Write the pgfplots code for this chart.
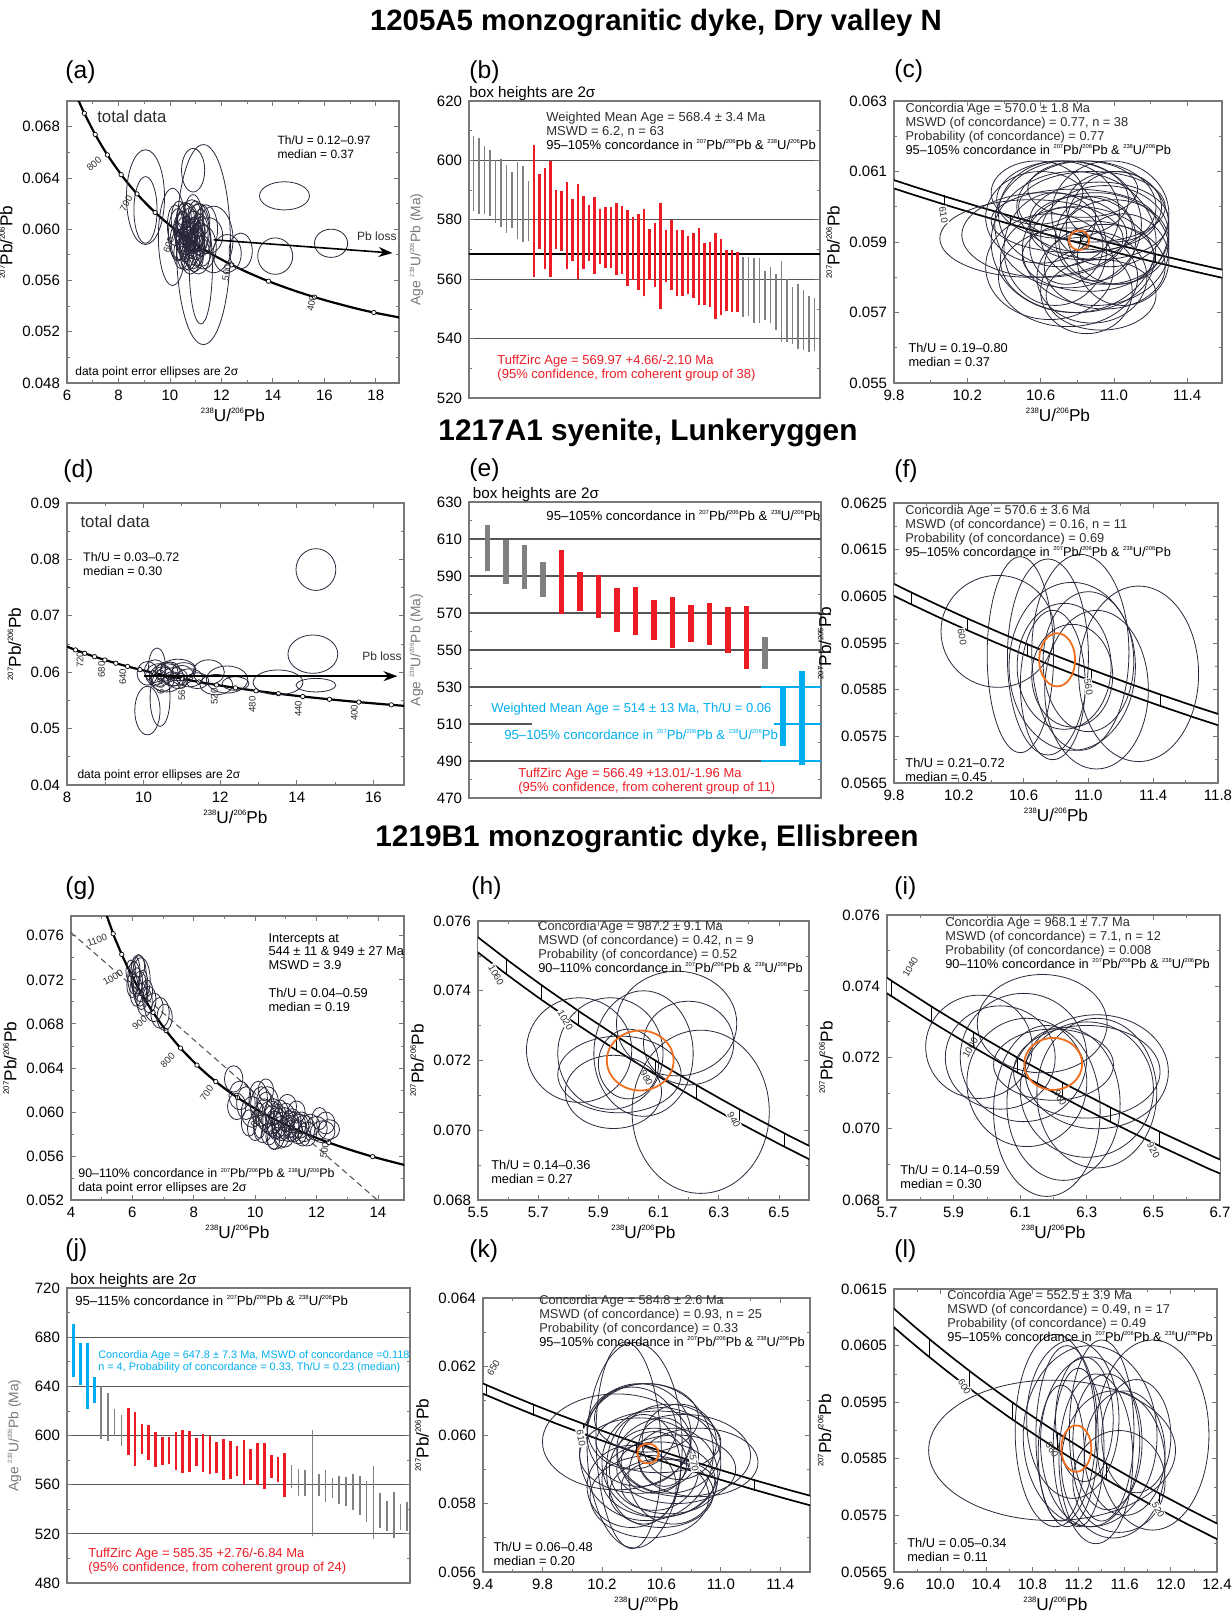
\documentclass[border=0pt]{standalone}
\usepackage{pgfplots}
\pgfplotsset{compat=1.18}
\usepackage{pgfplotstable}
\usepackage{fontspec}
\setmainfont{Liberation Sans}
\usetikzlibrary{arrows.meta}

\definecolor{ellc}{RGB}{40,40,58}
\definecolor{orng}{RGB}{240,110,30}
\definecolor{bred}{RGB}{237,28,36}
\definecolor{bgray}{RGB}{128,128,128}
\definecolor{bcyan}{RGB}{0,174,239}
\definecolor{axg}{RGB}{120,120,120}
\definecolor{gridc}{RGB}{85,85,85}
\definecolor{txt}{RGB}{45,45,45}

\newcommand{\su}[1]{\raisebox{0.85ex}{\scalebox{0.45}{#1}}}
\newcommand{\fsz}[2]{\fontsize{#1}{#2}\selectfont}

% ellipse mark: parameters ax/ay/by come from the symbolic point meta
\def\parseell#1/#2/#3\relax{\def\ellax{#1}\def\ellay{#2}\def\ellby{#3}}
\pgfdeclareplotmark{uell}{%
  \pgfpathellipse{\pgfpointorigin}%
    {\pgfplotspointaxisdirectionxy{\ellax}{\ellay}}%
    {\pgfplotspointaxisdirectionxy{0}{\ellby}}%
  \pgfusepathqstroke}

% concordia (Tera-Wasserburg): age, 238U/206Pb, 207Pb/206Pb
\pgfplotstableread{
t x y
300 20.992 0.052334
350 17.923 0.053499
380 16.469 0.054215
400 15.621 0.054701
420 14.854 0.055192
440 14.157 0.055690
450 13.831 0.055940
460 13.520 0.056193
480 12.936 0.056703
500 12.399 0.057220
510 12.1466 0.057480
520 11.9037 0.057743
530 11.6698 0.058006
540 11.4448 0.058272
550 11.228 0.058539
560 11.0187 0.058808
570 10.8169 0.059079
580 10.622 0.059351
590 10.4337 0.059625
600 10.2518 0.059901
610 10.0758 0.060179
620 9.9054 0.060458
630 9.7405 0.060739
640 9.5808 0.061022
650 9.4259 0.061306
660 9.2758 0.061593
680 8.9888 0.062172
700 8.7182 0.062756
720 8.4627 0.063350
740 8.2209 0.063951
750 8.1049 0.064254
800 7.5684 0.065799
850 7.0950 0.067395
900 6.6743 0.069042
920 6.5189 0.069716
940 6.3701 0.070399
950 6.2980 0.070743
960 6.2274 0.071090
980 6.0906 0.071791
1000 5.9593 0.072500
1020 5.8332 0.073218
1040 5.7119 0.073946
1050 5.6530 0.074314
1060 5.5952 0.074684
1080 5.4828 0.075431
1100 5.3746 0.076188
1200 4.8875 0.080122
1300 4.4756 0.084322
}\conc
% age markers every 50 Ma
\pgfplotstableread{
t x y
350 17.923 0.053499
400 15.621 0.054701
450 13.831 0.055940
500 12.399 0.057220
550 11.228 0.058539
600 10.2518 0.059901
650 9.4259 0.061306
700 8.7182 0.062756
750 8.1049 0.064254
800 7.5684 0.065799
850 7.0950 0.067395
900 6.6743 0.069042
950 6.2980 0.070743
1000 5.9593 0.072500
1050 5.6530 0.074314
1100 5.3746 0.076188
}\mFifty
% age markers every 20 Ma
\pgfplotstableread{
t x y
380 16.469 0.054215
400 15.621 0.054701
420 14.854 0.055192
440 14.157 0.055690
460 13.520 0.056193
480 12.936 0.056703
500 12.399 0.057220
520 11.9037 0.057743
540 11.4448 0.058272
560 11.0187 0.058808
580 10.622 0.059351
600 10.2518 0.059901
620 9.9054 0.060458
640 9.5808 0.061022
660 9.2758 0.061593
680 8.9888 0.062172
700 8.7182 0.062756
720 8.4627 0.063350
740 8.2209 0.063951
920 6.5189 0.069716
940 6.3701 0.070399
960 6.2274 0.071090
980 6.0906 0.071791
1000 5.9593 0.072500
1020 5.8332 0.073218
1040 5.7119 0.073946
1060 5.5952 0.074684
1080 5.4828 0.075431
}\mTwenty
% age markers 510, 530, ... 650 Ma
\pgfplotstableread{
t x y
510 12.1466 0.057480
530 11.6698 0.058006
550 11.228 0.058539
570 10.8169 0.059079
590 10.4337 0.059625
610 10.0758 0.060179
630 9.7405 0.060739
650 9.4259 0.061306
}\mOdd

% ---------- ellipses: centre x y, p = ax/ay/by (conjugate semi-axes (ax,ay) and (0,by))
\pgfplotstableread{
x y p
11.30 0.0588 1.05/0/0.0078
9.05 0.0625 0.74/0/0.0037
9.05 0.0615 0.45/0/0.0026
10.90 0.0646 0.45/0/0.0017
11.20 0.0571 0.45/0/0.0045
10.10 0.0594 0.55/0/0.0038
14.45 0.0626 0.97/0/0.0011
16.26 0.0589 0.645/0/0.0011
14.09 0.0579 0.68/0/0.00142
12.22 0.0581 0.55/0/0.00148
11.70 0.0592 0.75/0/0.0026
12.75 0.0583 0.45/0/0.0014
10.60 0.0595 0.40/0/0.0015
10.80 0.0590 0.45/0/0.0018
11.00 0.0598 0.35/0/0.0012
10.50 0.0600 0.30/0/0.0014
10.90 0.0585 0.40/0/0.0016
11.20 0.0592 0.38/0/0.0013
10.70 0.0603 0.42/0/0.0017
10.40 0.0588 0.35/0/0.0012
11.10 0.0580 0.45/0/0.0015
10.80 0.0597 0.28/0/0.0010
10.30 0.0596 0.36/0/0.0020
11.40 0.0600 0.45/0/0.0019
10.60 0.0582 0.33/0/0.0014
10.90 0.0605 0.38/0/0.0022
11.30 0.0586 0.50/0/0.0017
10.50 0.0592 0.25/0/0.0009
10.80 0.0578 0.38/0/0.0013
11.00 0.0610 0.30/0/0.0012
10.20 0.0603 0.30/0/0.0016
11.50 0.0595 0.55/0/0.0014
10.70 0.0588 0.30/0/0.0011
11.10 0.0600 0.44/0/0.0020
10.95 0.0592 0.20/0/0.0008
10.60 0.0608 0.35/0/0.0013
10.75 0.0594 0.30/0/0.0012
10.85 0.0587 0.25/0/0.0010
11.05 0.0590 0.30/0/0.0014
10.65 0.0599 0.22/0/0.0011
10.95 0.0600 0.28/0/0.0009
10.45 0.0581 0.30/0/0.0012
11.25 0.0583 0.35/0/0.0012
10.55 0.0610 0.28/0/0.0010
10.85 0.0612 0.35/0/0.0011
11.15 0.0607 0.40/0/0.0013
10.35 0.0608 0.30/0/0.0014
10.50 0.0598 0.32/0/0.0016
10.62 0.0590 0.38/0/0.0012
10.72 0.0585 0.35/0/0.0017
10.88 0.0595 0.40/0/0.0014
11.02 0.0587 0.33/0/0.0016
10.40 0.0600 0.26/0/0.0012
10.78 0.0602 0.30/0/0.0015
10.95 0.0579 0.35/0/0.0012
11.18 0.0597 0.30/0/0.0015
10.58 0.0587 0.22/0/0.0013
10.68 0.0593 0.18/0/0.0010
10.84 0.0591 0.15/0/0.0009
11.08 0.0594 0.22/0/0.0011
10.30 0.0590 0.30/0/0.0015
10.92 0.0598 0.45/0/0.0016
}\ellA

\pgfplotstableread{
x y p
10.62 0.0592 0.45/0/0.0012
10.55 0.0591 0.50/0/0.0011
10.75 0.0595 0.40/0/0.0018
10.85 0.0600 0.38/0/0.0013
10.90 0.0588 0.40/0/0.0016
10.95 0.0592 0.35/0/0.0014
10.80 0.0585 0.42/0/0.0015
11.00 0.0590 0.30/0/0.0012
10.70 0.0598 0.33/0/0.0015
10.88 0.0580 0.30/0/0.0013
10.78 0.0590 0.45/0/0.0020
10.92 0.0596 0.38/0/0.0011
10.85 0.0576 0.25/0/0.0012
10.65 0.0583 0.35/0/0.0015
11.05 0.0585 0.25/0/0.0013
10.98 0.0598 0.32/0/0.0015
10.72 0.0602 0.36/0/0.0011
10.82 0.0594 0.28/0/0.0009
10.90 0.0591 0.22/0/0.0012
10.60 0.0597 0.30/0/0.0013
11.02 0.0594 0.28/0/0.0016
10.75 0.0580 0.38/0/0.0014
10.88 0.0600 0.40/0/0.0010
10.95 0.0583 0.33/0/0.0012
10.68 0.0588 0.28/0/0.0016
10.83 0.0605 0.30/0/0.0008
10.93 0.0575 0.30/0/0.0010
10.78 0.0596 0.45/0/0.0009
11.00 0.0600 0.26/0/0.0010
10.58 0.0604 0.25/0/0.0009
10.86 0.0586 0.36/0/0.0010
10.74 0.0589 0.20/0/0.0011
}\ellC

\pgfplotstableread{
x y p
14.50 0.0782 0.52/0/0.0037
14.42 0.0632 0.65/0/0.0034
13.51 0.0582 0.65/0/0.0022
14.50 0.0577 0.52/0/0.0012
12.18 0.0587 0.54/0/0.0024
11.70 0.0600 0.41/0/0.0022
11.90 0.0578 0.43/0/0.0018
10.10 0.0532 0.33/0/0.0043
10.43 0.0554 0.26/0/0.0050
10.35 0.0610 0.22/0/0.0033
10.10 0.0598 0.27/0/0.0021
10.90 0.0604 0.47/0/0.0019
10.40 0.0595 0.35/0/0.0020
10.60 0.0600 0.30/0/0.0018
10.80 0.0592 0.35/0/0.0016
10.50 0.0588 0.30/0/0.0022
10.70 0.0603 0.25/0/0.0015
11.00 0.0595 0.30/0/0.0017
11.20 0.0590 0.35/0/0.0016
10.30 0.0602 0.28/0/0.0020
10.90 0.0585 0.25/0/0.0014
10.60 0.0590 0.45/0/0.0025
11.40 0.0585 0.30/0/0.0014
10.55 0.0596 0.20/0/0.0012
10.75 0.0588 0.22/0/0.0013
12.40 0.0580 0.35/0/0.0012
11.05 0.0605 0.30/0/0.0012
}\ellD

\pgfplotstableread{
x y p
10.44 0.05975 0.35/0/0.0012
10.58 0.05925 0.205/0/0.0021
10.75 0.0592 0.25/0/0.0021
10.95 0.0593 0.30/0/0.0021
11.31 0.05884 0.37/0/0.00188
10.90 0.0590 0.39/0/0.0018
10.85 0.0590 0.29/0/0.00135
10.90 0.0588 0.25/0/0.0011
11.00 0.0591 0.28/0/0.0015
10.78 0.0586 0.20/0/0.0016
11.05 0.0585 0.32/0/0.0017
}\ellF

\pgfplotstableread{
x y p
6.05 0.0722 0.20/0/0.0015
6.15 0.0718 0.18/0/0.0013
6.25 0.0712 0.22/0/0.0016
6.10 0.0727 0.15/0/0.0014
6.30 0.0705 0.20/0/0.0012
6.00 0.0715 0.18/0/0.0011
6.20 0.0725 0.25/0/0.0018
6.40 0.0700 0.25/0/0.0013
6.35 0.0717 0.15/0/0.0012
6.12 0.0710 0.20/0/0.0014
6.55 0.0702 0.22/0/0.0012
6.70 0.0695 0.30/0/0.0013
6.90 0.0690 0.30/0/0.0014
7.05 0.0686 0.25/0/0.0012
6.22 0.0732 0.18/0/0.0010
6.48 0.0710 0.18/0/0.0010
5.95 0.0728 0.16/0/0.0010
6.28 0.0720 0.30/0/0.0020
9.30 0.0630 0.30/0/0.0012
9.50 0.0615 0.35/0/0.0013
9.70 0.0608 0.30/0/0.0015
9.40 0.0605 0.30/0/0.0012
9.90 0.0600 0.35/0/0.0014
10.10 0.0612 0.30/0/0.0016
10.20 0.0605 0.35/0/0.0018
10.30 0.0598 0.30/0/0.0014
10.40 0.0610 0.35/0/0.0013
10.50 0.0595 0.40/0/0.0015
10.60 0.0600 0.30/0/0.0012
10.70 0.0590 0.35/0/0.0014
10.80 0.0598 0.30/0/0.0013
10.90 0.0588 0.35/0/0.0012
11.00 0.0595 0.30/0/0.0013
11.10 0.0585 0.35/0/0.0012
11.20 0.0592 0.30/0/0.0011
11.30 0.0588 0.35/0/0.0012
11.40 0.0582 0.30/0/0.0011
11.50 0.0590 0.30/0/0.0010
11.60 0.0585 0.35/0/0.0012
11.70 0.0580 0.30/0/0.0011
11.80 0.0588 0.30/0/0.0010
12.00 0.0585 0.35/0/0.0011
12.20 0.0582 0.40/0/0.0010
12.40 0.0584 0.35/0/0.0009
10.25 0.0585 0.30/0/0.0013
10.45 0.0580 0.25/0/0.0010
10.65 0.0578 0.30/0/0.0012
10.85 0.0580 0.25/0/0.0013
10.60 0.0575 0.20/0/0.0009
9.80 0.0590 0.25/0/0.0012
10.00 0.0585 0.25/0/0.0011
10.35 0.0620 0.25/0/0.0010
11.05 0.0605 0.30/0/0.0011
11.35 0.0600 0.28/0/0.0010
10.15 0.0592 0.20/0/0.0016
10.95 0.0577 0.30/0/0.0009
11.55 0.0578 0.25/0/0.0009
12.10 0.0594 0.25/0/0.0010
10.55 0.0592 0.30/0/0.0014
10.75 0.0595 0.28/0/0.0012
10.95 0.0591 0.32/0/0.0013
11.15 0.0589 0.28/0/0.0012
10.35 0.0603 0.30/0/0.0015
11.45 0.0587 0.30/0/0.0011
10.85 0.0585 0.30/0/0.0011
11.25 0.0583 0.30/0/0.0010
10.65 0.0588 0.25/0/0.0013
12.30 0.0590 0.30/0/0.0010
}\ellG

\pgfplotstableread{
x y p
5.836 0.0723 0.175/0/0.0015
5.94 0.0722 0.175/0/0.0016
6.05 0.0722 0.165/0/0.0018
6.16 0.07306 0.20/0/0.0015
6.20 0.0725 0.15/0/0.0012
5.95 0.0711 0.16/0/0.00105
6.24 0.07053 0.228/0/0.00234
5.97 0.0716 0.205/0/0.0011
6.00 0.0719 0.10/0/0.0010
}\ellH

\pgfplotstableread{
x y p
5.976 0.0723 0.16/0/0.00145
6.04 0.0720 0.165/0/0.00145
6.166 0.07295 0.195/0/0.00138
6.11 0.0720 0.19/0/0.0018
6.18 0.0705 0.16/0/0.0024
6.23 0.0707 0.17/0/0.00215
6.30 0.0711 0.20/0/0.0019
6.33 0.0716 0.215/0/0.0016
6.30 0.0716 0.22/0/0.0013
6.20 0.0718 0.18/0/0.0010
6.33 0.0710 0.18/0/0.0021
6.12 0.0713 0.18/0/0.0018
}\ellI

\pgfplotstableread{
x y p
10.50 0.0595 0.45/0/0.0020
10.30 0.0598 0.50/0/0.0014
10.60 0.0592 0.40/0/0.0016
10.55 0.0590 0.30/0/0.0012
10.45 0.0600 0.35/0/0.0015
10.65 0.0596 0.35/0/0.0013
10.58 0.0587 0.38/0/0.0011
10.70 0.0590 0.40/0/0.0010
10.40 0.0585 0.30/0/0.0012
10.38 0.0597 0.22/-0.0003/0.0030
10.42 0.0597 0.32/0/0.0030
10.75 0.0594 0.45/0/0.0012
10.85 0.0592 0.40/0/0.0010
10.60 0.0583 0.35/0/0.0010
10.50 0.0605 0.35/0/0.0010
10.55 0.0592 0.22/0/0.0009
10.68 0.0588 0.30/0/0.0014
10.48 0.0590 0.25/0/0.0016
10.58 0.0598 0.42/0/0.0009
10.45 0.0594 0.40/0/0.0011
10.65 0.0585 0.32/0/0.0008
10.40 0.0602 0.30/0/0.0012
10.52 0.0582 0.40/0/0.0012
10.72 0.0598 0.25/0/0.0011
10.62 0.0595 0.18/0/0.0010
}\ellK

\pgfplotstableread{
x y p
10.97 0.05865 1.07/0/0.00124
11.84 0.05892 0.49/0/0.00168
11.30 0.0589 0.58/0/0.0016
11.30 0.0588 0.43/0/0.0015
11.10 0.0589 0.27/0/0.0016
11.20 0.0587 0.22/0/0.0014
11.45 0.0588 0.30/0/0.0012
11.60 0.0586 0.35/0/0.0011
11.00 0.0590 0.35/0/0.0017
11.25 0.0592 0.25/0/0.0011
11.50 0.0584 0.45/0/0.0013
11.35 0.0585 0.32/0/0.0015
11.05 0.0586 0.20/0/0.0012
11.70 0.0589 0.30/0/0.0010
11.15 0.0592 0.40/0/0.0014
11.40 0.0590 0.28/0/0.0016
11.55 0.0581 0.40/0/0.0009
}\ellL

% concordia-age ellipses (orange)
\pgfplotstableread{
x y p
10.81 0.05905 0.055/0/0.00028
}\orC
\pgfplotstableread{
x y p
10.807 0.05914 0.111/0/0.00057
}\orF
\pgfplotstableread{
x y p
6.039 0.0720 0.111/0/0.00086
}\orH
\pgfplotstableread{
x y p
6.199 0.07182 0.087/0/0.00073
}\orI
\pgfplotstableread{
x y p
10.51 0.05946 0.072/0/0.00029
}\orK
\pgfplotstableread{
x y p
11.18 0.05868 0.13/0/0.00041
}\orL

% ---------- age bars (b)
\pgfplotstableread{
i lo hi
1 583.0 608.2
2 582.1 607.4
3 581.9 604.8
4 581.3 603.5
5 579.0 600.1
6 577.6 600.4
7 575.6 598.4
8 577.1 596.2
9 573.5 599.6
10 572.6 598.1
11 572.9 593.0
50 547.3 567.5
51 547.5 567.5
52 545.4 567.0
53 545.1 567.2
54 546.2 562.8
55 545.1 564.2
56 542.8 561.9
57 538.9 566.1
58 538.9 560.0
59 538.3 557.4
60 536.6 558.3
61 536.1 556.3
62 535.5 554.3
63 535.8 553.7
}\bG
\pgfplotstableread{
i lo hi
12 560.6 605.1
13 570.2 595.4
14 563.4 597.3
15 560.8 599.9
16 570.3 590.0
17 569.4 589.7
18 563.4 592.6
19 566.1 587.0
20 560.0 592.0
21 563.6 588.0
22 566.2 584.9
23 561.9 587.8
24 565.1 583.8
25 563.8 584.2
26 563.7 584.2
27 561.3 585.8
28 561.7 584.7
29 557.8 583.3
30 559.7 581.0
31 556.3 581.9
32 554.3 583.5
33 559.7 576.9
34 557.4 579.0
35 550.1 585.8
36 558.9 576.5
37 556.3 579.9
38 554.3 576.5
39 554.3 576.6
40 554.9 574.5
41 553.8 575.6
42 551.2 577.1
43 551.2 572.1
44 550.7 572.5
45 546.7 575.7
46 547.8 573.5
47 549.3 569.8
48 549.0 570.0
49 549.0 569.1
}\bR
% (e)
\pgfplotstableread{
i lo hi
1 592.5 617.7
2 585.7 609.6
3 583.0 606.9
4 578.5 597.4
16 539.7 557.0
}\eG
\pgfplotstableread{
i lo hi
5 569.5 604.2
6 571.1 592.3
7 567.1 590.7
8 559.6 583.5
9 557.9 583.9
10 555.2 577.2
11 550.9 578.5
12 554.5 574.2
13 552.7 575.4
14 548.4 573.2
15 539.7 573.6
}\eR
\pgfplotstableread{
i lo hi
17 497.9 530.4
18 487.7 538.5
}\eB
% (j)
\pgfplotstableread{
i lo hi
1 647.8 691.1
2 641.1 674.9
3 621.4 674.9
4 626.8 647.8
}\jB
\pgfplotstableread{
i lo hi
5 597.0 640.3
6 595.9 634.3
7 599.7 621.4
8 591.6 616.8
33 557.3 576.2
34 551.1 572.7
35 551.1 571.6
37 550.5 568.6
38 545.7 572.2
39 549.2 565.4
40 544.6 566.7
41 542.4 566.2
42 539.2 568.6
43 535.7 566.7
44 529.7 563.2
46 524.9 553.2
47 522.7 547.0
48 516.8 553.8
49 523.5 544.6
50 522.2 545.7
}\jG
\pgfplotstableread{
i lo hi
36 518.1 604.1
45 516.0 574.9
}\jGt
\pgfplotstableread{
i lo hi
9 584.3 622.7
10 574.9 619.5
11 585.1 609.2
12 580.3 608.6
13 574.3 603.2
14 576.2 599.2
15 576.8 599.2
16 571.6 603.2
17 569.5 604.6
18 570.0 603.8
19 574.9 597.8
20 570.3 601.4
21 568.7 600.0
22 569.5 595.1
23 564.1 597.0
24 564.6 595.9
25 567.3 591.6
26 560.0 596.5
27 564.1 588.9
28 560.0 594.3
29 556.5 594.3
30 565.4 584.1
31 561.9 582.2
32 549.7 585.7
}\jR

\tikzset{
  ann/.style={anchor=north west, inner sep=0pt, align=left, font=\fsz{6.4}{6.9}, text=txt},
  clab/.style={inner sep=0.5pt, font=\fsz{4.8}{5}, text=txt},
}
\pgfplotsset{
  ell/.style={scatter, only marks, mark=uell, color=ellc, point meta=explicit symbolic,
    scatter/@pre marker code/.code={\expandafter\parseell\pgfplotspointmeta\relax},
    scatter/@post marker code/.code={},
    mark options={line width=0.4pt, solid}},
  orell/.style={ell, color=orng, mark options={line width=0.9pt, solid}},
  bars/.style 2 args={draw=none, no markers, error bars/.cd, y dir=plus, y explicit, error mark=none, error bar style={line width=#1, draw=#2, solid}},
  base/.style={scale only axis, anchor=south west, clip mode=individual, clip marker paths=true,
    axis line style={axg, line width=0.6pt}, tick style={axg, line width=0.4pt},
    tick align=inside, major tick length=2.5pt, minor tick length=1.4pt,
    tick label style={font=\fsz{7.5}{8}}, label style={font=\fsz{8.6}{10}},
    scaled ticks=false, /pgf/number format/assume math mode=true,
    /pgf/number format/fixed, /pgf/number format/fixed zerofill},
  ov/.style={base, xlabel={\su{238}U/\su{206}Pb}, ylabel={\su{207}Pb/\su{206}Pb},
    minor x tick num=1, minor y tick num=1,
    xlabel style={yshift=3pt}, ylabel style={yshift=-2pt}},
  barax/.style={base, xtick=\empty, ylabel={Age \su{238}U/\su{206}Pb (Ma)},
    ylabel style={font=\fsz{6.9}{7}, text=axg}, minor y tick num=1,
    yticklabel style={/pgf/number format/precision=0}},
  concov/.style={black, line width=1.1pt, smooth},
  concmk/.style={only marks, mark=*, mark size=1.1pt, mark options={fill=white, draw=black, line width=0.35pt}},
  band/.style={black, line width=0.9pt, double=white, double distance=#1, line join=round},
  bandmk/.style={only marks, mark=|, mark size=#1, mark options={black, line width=0.4pt}},
}

\begin{document}
\begin{tikzpicture}
\useasboundingbox (0pt,0pt) rectangle (615.5pt,-805.5pt);
% titles
\node[font=\bfseries\fsz{14.7}{16}] at (328pt,-11.5pt) {1205A5 monzogranitic dyke, Dry valley N};
\node[font=\bfseries\fsz{14.9}{16}] at (324pt,-216.5pt) {1217A1 syenite, Lunkeryggen};
\node[font=\bfseries\fsz{14.9}{16}] at (323.5pt,-419.5pt) {1219B1 monzograntic dyke, Ellisbreen};
% panel letters
\foreach \lx/\ly/\lt in {32.5/-36/a, 234.5/-36/b, 447/-35.5/c, 31.5/-235.5/d, 234.5/-235/e, 447/-235.5/f, 32.5/-444/g, 235.5/-444/h, 447/-444/i, 32.5/-625/j, 234.5/-625.5/k, 447/-625.5/l}
  \node[anchor=west, inner sep=0pt, font=\fsz{12.3}{13}] at (\lx pt,\ly pt) {(\lt)};

% ================= (a)
\begin{axis}[ov, at={(33.5pt,-191.5pt)}, width=166pt, height=141pt,
  xmin=6, xmax=18.9, ymin=0.048, ymax=0.070,
  xtick={6,8,10,12,14,16,18}, ytick={0.048,0.052,0.056,0.060,0.064,0.068},
  xticklabel style={/pgf/number format/precision=0}, yticklabel style={/pgf/number format/precision=3}]
\addplot[concov] table[x=x,y=y]{\conc};
\addplot[concmk] table[x=x,y=y]{\mFifty};
\addplot[ell] table[x=x,y=y,meta=p]{\ellA};
\addplot[black, line width=0.8pt, -{Stealth[length=7pt,width=5pt]}] coordinates {(11.7,0.05917) (18.65,0.05814)};
\node[clab, rotate=40] at (axis cs:7.05,0.0651) {800};
\node[clab, rotate=60] at (axis cs:8.3,0.0620) {700};
\node[clab, rotate=70] at (axis cs:9.95,0.0588) {600};
\node[clab, rotate=80] at (axis cs:12.2,0.0566) {500};
\node[clab, rotate=80] at (axis cs:15.5,0.0542) {400};
\node[ann, font=\fsz{8.4}{9}] at (rel axis cs:0.09,0.968) {total data};
\node[ann, font=\fsz{6}{7}, text=black] at (rel axis cs:0.633,0.879) {Th/U = 0.12–0.97\\median = 0.37};
\node[ann, anchor=west, font=\fsz{6}{6.5}, text=black] at (rel axis cs:0.024,0.039) {data point error ellipses are 2σ};
\node[ann, anchor=west, font=\fsz{6}{6.5}] at (rel axis cs:0.873,0.521) {Pb loss};
\end{axis}

% ================= (b)
\begin{axis}[barax, at={(234.5pt,-199pt)}, width=175.5pt, height=148.5pt,
  xmin=0.2, xmax=64, ymin=520, ymax=620, ytick={520,540,560,580,600,620},
  ymajorgrids, grid style={gridc, line width=0.5pt}]
\addplot[black, line width=1pt] coordinates {(0.2,568.4) (64,568.4)};
\addplot[bars={0.85pt}{bgray}] table[x=i, y=lo, y error expr=\thisrow{hi}-\thisrow{lo}]{\bG};
\addplot[bars={1.35pt}{bred}] table[x=i, y=lo, y error expr=\thisrow{hi}-\thisrow{lo}]{\bR};
\node[ann, anchor=south west, font=\fsz{7.6}{8}, text=black] at (rel axis cs:0,1) {box heights are 2σ};
\node[ann, font=\fsz{6.5}{7}] at (rel axis cs:0.219,0.963) {Weighted Mean Age = 568.4 ± 3.4 Ma\\MSWD = 6.2, n = 63\\\textcolor{black}{95–105\% concordance in \su{207}Pb/\su{206}Pb \& \su{238}U/\su{206}Pb}};
\node[ann, font=\fsz{6.5}{7}, text=bred] at (rel axis cs:0.08,0.145) {TuffZirc Age = 569.97 +4.66/-2.10 Ma\\(95\% confidence, from coherent group of 38)};
\end{axis}

% ================= (c)
\begin{axis}[ov, at={(447pt,-191.5pt)}, width=164pt, height=141pt,
  xmin=9.8, xmax=11.59, ymin=0.055, ymax=0.063,
  xtick={9.8,10.2,10.6,11.0,11.4}, ytick={0.055,0.057,0.059,0.061,0.063},
  xticklabel style={/pgf/number format/precision=1}, yticklabel style={/pgf/number format/precision=3}]
\addplot[band=3pt] table[x=x,y=y]{\conc};
\addplot[ell] table[x=x,y=y,meta=p]{\ellC};
\addplot[bandmk=2.6pt] table[x=x,y=y]{\mOdd};
\addplot[orell] table[x=x,y=y,meta=p]{\orC};
\node[clab, rotate=-80, fill=white] at (axis cs:10.07,0.05977) {610};
\node[clab, rotate=-80] at (axis cs:10.84,0.05900) {570};
\node[ann] at (rel axis cs:0.034,0.993) {Concordia Age = 570.0 ± 1.8 Ma\\MSWD (of concordance) = 0.77, n = 38\\Probability (of concordance) = 0.77\\\textcolor{black}{95–105\% concordance in \su{207}Pb/\su{206}Pb \& \su{238}U/\su{206}Pb}};
\node[ann, text=black] at (rel axis cs:0.043,0.142) {Th/U = 0.19–0.80\\median = 0.37};
\end{axis}

% ================= (d)
\begin{axis}[ov, at={(33.5pt,-392.5pt)}, width=168.5pt, height=141pt,
  xmin=8, xmax=16.8, ymin=0.04, ymax=0.09,
  xtick={8,10,12,14,16}, ytick={0.04,0.05,0.06,0.07,0.08,0.09},
  xticklabel style={/pgf/number format/precision=0}, yticklabel style={/pgf/number format/precision=2}]
\addplot[concov] table[x=x,y=y]{\conc};
\addplot[concmk] table[x=x,y=y]{\mTwenty};
\addplot[ell] table[x=x,y=y,meta=p]{\ellD};
\addplot[black, line width=0.8pt, -{Stealth[length=7pt,width=5pt]}] coordinates {(10.0,0.0593) (16.63,0.0593)};
\node[clab, rotate=90] at (axis cs:8.34,0.0622) {720};
\node[clab, rotate=90] at (axis cs:8.9,0.0605) {680};
\node[clab, rotate=90] at (axis cs:9.46,0.0592) {640};
\node[clab, rotate=90] at (axis cs:10.45,0.0575) {600};
\node[clab, rotate=90] at (axis cs:11.0,0.0564) {560};
\node[clab, rotate=90] at (axis cs:11.85,0.0557) {520};
\node[clab, rotate=90] at (axis cs:12.84,0.0543) {480};
\node[clab, rotate=90] at (axis cs:14.04,0.0535) {440};
\node[clab, rotate=90] at (axis cs:15.5,0.0528) {400};
\node[ann, font=\fsz{8.4}{9}] at (rel axis cs:0.039,0.957) {total data};
\node[ann, font=\fsz{6.2}{7}, text=black] at (rel axis cs:0.047,0.826) {Th/U = 0.03–0.72\\median = 0.30};
\node[ann, anchor=west, font=\fsz{6}{6.5}, text=black] at (rel axis cs:0.030,0.035) {data point error ellipses are 2σ};
\node[ann, anchor=west, font=\fsz{6}{6.5}] at (rel axis cs:0.875,0.457) {Pb loss};
\end{axis}

% ================= (e)
\begin{axis}[barax, at={(234.5pt,-399pt)}, width=176pt, height=148pt,
  xmin=0, xmax=19.03, ymin=470, ymax=630, ytick={470,490,510,530,550,570,590,610,630}]
\addplot[gridc, line width=0.6pt] coordinates {(0,610) (19.03,610)};
\addplot[gridc, line width=0.6pt] coordinates {(0,590) (19.03,590)};
\addplot[gridc, line width=0.6pt] coordinates {(0,570) (19.03,570)};
\addplot[gridc, line width=0.6pt] coordinates {(0,550) (19.03,550)};
\addplot[gridc, line width=0.6pt] coordinates {(0,530) (15.77,530)};
\addplot[bcyan, line width=0.6pt] coordinates {(15.77,530) (19.03,530)};
\addplot[gridc, line width=0.6pt] coordinates {(0,510) (3.43,510)};
\addplot[bcyan, line width=0.6pt] coordinates {(16.5,510) (19.03,510)};
\addplot[gridc, line width=0.6pt] coordinates {(0,490) (15.77,490)};
\addplot[bcyan, line width=0.6pt] coordinates {(15.77,490) (19.03,490)};
\addplot[bars={2.7pt}{bgray}] table[x=i, y=lo, y error expr=\thisrow{hi}-\thisrow{lo}]{\eG};
\addplot[bars={2.7pt}{bred}] table[x=i, y=lo, y error expr=\thisrow{hi}-\thisrow{lo}]{\eR};
\addplot[bars={3pt}{bcyan}] table[x=i, y=lo, y error expr=\thisrow{hi}-\thisrow{lo}]{\eB};
\node[ann, anchor=south west, font=\fsz{7.6}{8}, text=black] at (rel axis cs:0.01,1) {box heights are 2σ};
\node[ann, font=\fsz{6.6}{7}, text=black] at (rel axis cs:0.219,0.973) {95–105\% concordance in \su{207}Pb/\su{206}Pb \& \su{238}U/\su{206}Pb};
\node[ann, anchor=west, font=\fsz{6.5}{7}, text=bcyan] at (rel axis cs:0.0625,0.301) {Weighted Mean Age = 514 ± 13 Ma, Th/U = 0.06};
\node[ann, anchor=west, font=\fsz{6.6}{7}, text=bcyan] at (rel axis cs:0.099,0.216) {95–105\% concordance in \su{207}Pb/\su{206}Pb \& \su{238}U/\su{206}Pb};
\node[ann, font=\fsz{6.5}{7}, text=bred] at (rel axis cs:0.139,0.101) {TuffZirc Age = 566.49 +13.01/-1.96 Ma\\(95\% confidence, from coherent group of 11)};
\end{axis}

% ================= (f)
\begin{axis}[ov, at={(447pt,-391.5pt)}, width=162pt, height=140pt,
  xmin=9.8, xmax=11.8, ymin=0.0565, ymax=0.0625,
  xtick={9.8,10.2,10.6,11.0,11.4,11.8}, ytick={0.0565,0.0575,0.0585,0.0595,0.0605,0.0615,0.0625},
  xticklabel style={/pgf/number format/precision=1}, yticklabel style={/pgf/number format/precision=4}]
\addplot[band=4.4pt] table[x=x,y=y]{\conc};
\addplot[ell] table[x=x,y=y,meta=p]{\ellF};
\addplot[bandmk=3.2pt] table[x=x,y=y]{\mTwenty};
\addplot[orell] table[x=x,y=y,meta=p]{\orF};
\node[clab, rotate=-80, fill=white] at (axis cs:10.22,0.05963) {600};
\node[clab, rotate=-80, fill=white] at (axis cs:11.0,0.05856) {560};
\node[ann] at (rel axis cs:0.034,0.993) {Concordia Age = 570.6 ± 3.6 Ma\\MSWD (of concordance) = 0.16, n = 11\\Probability (of concordance) = 0.69\\\textcolor{black}{95–105\% concordance in \su{207}Pb/\su{206}Pb \& \su{238}U/\su{206}Pb}};
\node[ann, text=black] at (rel axis cs:0.034,0.089) {Th/U = 0.21–0.72\\median = 0.45};
\end{axis}

% ================= (g)
\begin{axis}[ov, at={(35.5pt,-600pt)}, width=166.5pt, height=142pt,
  xmin=4, xmax=14.85, ymin=0.052, ymax=0.0778,
  xtick={4,6,8,10,12,14}, ytick={0.052,0.056,0.060,0.064,0.068,0.072,0.076},
  xticklabel style={/pgf/number format/precision=0}, yticklabel style={/pgf/number format/precision=3}]
\addplot[black!70, line width=0.5pt, dash pattern=on 3pt off 2pt] coordinates {(4,0.0763) (13.98,0.052)};
\addplot[concov] table[x=x,y=y]{\conc};
\addplot[concmk] table[x=x,y=y]{\mFifty};
\addplot[ell] table[x=x,y=y,meta=p]{\ellG};
\node[clab, rotate=20] at (axis cs:4.85,0.0756) {1100};
\node[clab, rotate=30] at (axis cs:5.37,0.0722) {1000};
\node[clab, rotate=40] at (axis cs:6.24,0.0681) {900};
\node[clab, rotate=45] at (axis cs:7.15,0.0647) {800};
\node[clab, rotate=55] at (axis cs:8.42,0.0617) {700};
\node[clab, rotate=60] at (axis cs:10.05,0.0593) {600};
\node[clab, rotate=80] at (axis cs:12.26,0.0565) {500};
\node[ann, font=\fsz{6.4}{6.8}, text=black] at (rel axis cs:0.592,0.940) {Intercepts at\\544 ± 11 \& 949 ± 27 Ma\\MSWD = 3.9};
\node[ann, font=\fsz{6.4}{6.8}, text=black] at (rel axis cs:0.592,0.746) {Th/U = 0.04–0.59\\median = 0.19};
\node[ann, font=\fsz{6.2}{7}, text=black] at (rel axis cs:0.021,0.113) {90–110\% concordance in \su{207}Pb/\su{206}Pb \& \su{238}U/\su{206}Pb\\data point error ellipses are 2σ};
\end{axis}

% ================= (h)
\begin{axis}[ov, at={(239pt,-600pt)}, width=165.5pt, height=139.5pt,
  xmin=5.5, xmax=6.6, ymin=0.068, ymax=0.076,
  xtick={5.5,5.7,5.9,6.1,6.3,6.5}, ytick={0.068,0.070,0.072,0.074,0.076},
  xticklabel style={/pgf/number format/precision=1}, yticklabel style={/pgf/number format/precision=3}]
\addplot[band=5pt] table[x=x,y=y]{\conc};
\addplot[ell] table[x=x,y=y,meta=p]{\ellH};
\addplot[bandmk=3.5pt] table[x=x,y=y]{\mTwenty};
\addplot[orell] table[x=x,y=y,meta=p]{\orH};
\node[clab, rotate=-60, fill=white] at (axis cs:5.56,0.07445) {1060};
\node[clab, rotate=-60, fill=white] at (axis cs:5.79,0.07316) {1020};
\node[clab, rotate=-60] at (axis cs:6.06,0.0715) {980};
\node[clab, rotate=-60, fill=white] at (axis cs:6.35,0.0703) {940};
\node[ann] at (rel axis cs:0.181,1.0) {Concordia Age = 987.2 ± 9.1 Ma\\MSWD (of concordance) = 0.42, n = 9\\Probability (of concordance) = 0.52\\\textcolor{black}{90–110\% concordance in \su{207}Pb/\su{206}Pb \& \su{238}U/\su{206}Pb}};
\node[ann, text=black] at (rel axis cs:0.039,0.143) {Th/U = 0.14–0.36\\median = 0.27};
\end{axis}

% ================= (i)
\begin{axis}[ov, at={(443.5pt,-600pt)}, width=166.5pt, height=142.5pt,
  xmin=5.7, xmax=6.7, ymin=0.068, ymax=0.076,
  xtick={5.7,5.9,6.1,6.3,6.5,6.7}, ytick={0.068,0.070,0.072,0.074,0.076},
  xticklabel style={/pgf/number format/precision=1}, yticklabel style={/pgf/number format/precision=3}]
\addplot[band=5.5pt] table[x=x,y=y]{\conc};
\addplot[ell] table[x=x,y=y,meta=p]{\ellI};
\addplot[bandmk=3.7pt] table[x=x,y=y]{\mTwenty};
\addplot[orell] table[x=x,y=y,meta=p]{\orI};
\node[clab, rotate=60] at (axis cs:5.77,0.07454) {1040};
\node[clab, rotate=60] at (axis cs:5.95,0.07227) {1000};
\node[clab, rotate=-60] at (axis cs:6.22,0.07087) {960};
\node[clab, rotate=-60, fill=white] at (axis cs:6.50,0.0694) {920};
\node[ann] at (rel axis cs:0.174,0.993) {Concordia Age = 968.1 ± 7.7 Ma\\MSWD (of concordance) = 7.1, n = 12\\Probability (of concordance) = 0.008\\\textcolor{black}{90–110\% concordance in \su{207}Pb/\su{206}Pb \& \su{238}U/\su{206}Pb}};
\node[ann, text=black] at (rel axis cs:0.039,0.123) {Th/U = 0.14–0.59\\median = 0.30};
\end{axis}

% ================= (j)
\begin{axis}[barax, at={(33.5pt,-791.5pt)}, width=171.5pt, height=147.5pt,
  xmin=0, xmax=50.4, ymin=480, ymax=720, ytick={480,520,560,600,640,680,720},
  ymajorgrids, grid style={gridc, line width=0.6pt}]
\addplot[bars={1.35pt}{bcyan}] table[x=i, y=lo, y error expr=\thisrow{hi}-\thisrow{lo}]{\jB};
\addplot[bars={0.85pt}{bgray}] table[x=i, y=lo, y error expr=\thisrow{hi}-\thisrow{lo}]{\jG};
\addplot[bars={0.5pt}{bgray}] table[x=i, y=lo, y error expr=\thisrow{hi}-\thisrow{lo}]{\jGt};
\addplot[bars={1.35pt}{bred}] table[x=i, y=lo, y error expr=\thisrow{hi}-\thisrow{lo}]{\jR};
\node[ann, anchor=south west, font=\fsz{7.6}{8}, text=black] at (rel axis cs:0.009,1) {box heights are 2σ};
\node[ann, font=\fsz{6.6}{7}, text=black] at (rel axis cs:0.023,0.976) {95–115\% concordance in \su{207}Pb/\su{206}Pb \& \su{238}U/\su{206}Pb};
\node[ann, font=\fsz{5.45}{6.3}, text=bcyan] at (rel axis cs:0.090,0.790) {Concordia Age = 647.8 ± 7.3 Ma, MSWD of concordance =0.118\\n = 4, Probability of concordance = 0.33, Th/U = 0.23 (median)};
\node[ann, font=\fsz{6.5}{7}, text=bred] at (rel axis cs:0.061,0.119) {TuffZirc Age = 585.35 +2.76/-6.84 Ma\\(95\% confidence, from coherent group of 24)};
\end{axis}

% ================= (k)
\begin{axis}[ov, at={(241.5pt,-786pt)}, width=163.5pt, height=137pt,
  xmin=9.4, xmax=11.6, ymin=0.056, ymax=0.064,
  xtick={9.4,9.8,10.2,10.6,11.0,11.4}, ytick={0.056,0.058,0.060,0.062,0.064},
  xticklabel style={/pgf/number format/precision=1}, yticklabel style={/pgf/number format/precision=3}]
\addplot[band=3.7pt] table[x=x,y=y]{\conc};
\addplot[ell] table[x=x,y=y,meta=p]{\ellK};
\addplot[bandmk=3pt] table[x=x,y=y]{\mOdd};
\addplot[orell] table[x=x,y=y,meta=p]{\orK};
\node[clab, rotate=60] at (axis cs:9.47,0.06196) {650};
\node[clab, rotate=-80, fill=white] at (axis cs:10.06,0.05991) {610};
\node[clab, rotate=-80, fill=white] at (axis cs:10.82,0.05918) {570};
\node[ann] at (rel axis cs:0.171,1.01) {Concordia Age = 584.8 ± 2.6 Ma\\MSWD (of concordance) = 0.93, n = 25\\Probability (of concordance) = 0.33\\\textcolor{black}{95–105\% concordance in \su{207}Pb/\su{206}Pb \& \su{238}U/\su{206}Pb}};
\node[ann, text=black] at (rel axis cs:0.031,0.109) {Th/U = 0.06–0.48\\median = 0.20};
\end{axis}

% ================= (l)
\begin{axis}[ov, at={(447pt,-786pt)}, width=161.5pt, height=141.5pt,
  xmin=9.6, xmax=12.4, ymin=0.0565, ymax=0.0615,
  xtick={9.6,10.0,10.4,10.8,11.2,11.6,12.0,12.4}, ytick={0.0565,0.0575,0.0585,0.0595,0.0605,0.0615},
  xticklabel style={/pgf/number format/precision=1}, yticklabel style={/pgf/number format/precision=4}]
\addplot[band=6pt] table[x=x,y=y]{\conc};
\addplot[ell] table[x=x,y=y,meta=p]{\ellL};
\addplot[bandmk=4pt] table[x=x,y=y]{\mTwenty};
\addplot[orell] table[x=x,y=y,meta=p]{\orL};
\node[clab, rotate=-60, fill=white] at (axis cs:10.21,0.05977) {600};
\node[clab, rotate=-60] at (axis cs:10.97,0.05866) {560};
\node[clab, rotate=-60, fill=white] at (axis cs:11.89,0.0576) {520};
\node[ann] at (rel axis cs:0.164,0.996) {Concordia Age = 552.5 ± 3.9 Ma\\MSWD (of concordance) = 0.49, n = 17\\Probability (of concordance) = 0.49\\\textcolor{black}{95–105\% concordance in \su{207}Pb/\su{206}Pb \& \su{238}U/\su{206}Pb}};
\node[ann, text=black] at (rel axis cs:0.040,0.120) {Th/U = 0.05–0.34\\median = 0.11};
\end{axis}
\end{tikzpicture}
\end{document}
